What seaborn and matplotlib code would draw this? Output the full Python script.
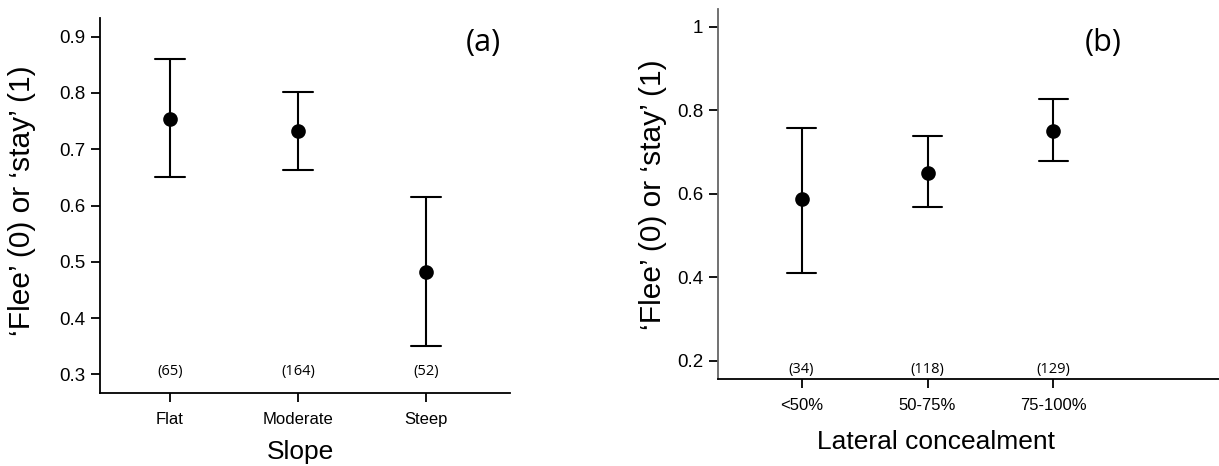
import matplotlib
matplotlib.use("Agg")
import matplotlib.pyplot as plt
import seaborn as sns
import pandas as pd

# ---- data ----
slope_cats = ["Flat", "Moderate", "Steep"]
slope_mean = [0.754, 0.733, 0.482]
slope_lo = [0.651, 0.663, 0.350]
slope_hi = [0.861, 0.802, 0.615]
slope_n = [65, 164, 52]

conc_cats = ["<50%", "50-75%", "75-100%"]
conc_mean = [0.587, 0.649, 0.750]
conc_lo = [0.410, 0.568, 0.678]
conc_hi = [0.756, 0.737, 0.827]
conc_n = [34, 118, 129]

ylabel = "\u2018Flee\u2019 (0) or \u2018stay\u2019 (1)"


def long_df(cats, lo, mean, hi):
    rows = []
    for c, l, m, h in zip(cats, lo, mean, hi):
        for v in (l, m, h):
            rows.append({"cat": c, "val": v})
    return pd.DataFrame(rows)


sns.set_theme(style="ticks")
plt.rcParams["font.family"] = ["Liberation Sans", "DejaVu Sans"]

fig = plt.figure(figsize=(12.19, 4.66), dpi=100)
ax_a = fig.add_axes([100 / 1219, 1 - 393 / 466, 410 / 1219, 375 / 466])
ax_b = fig.add_axes([718 / 1219, 1 - 379 / 466, 501 / 1219, 370 / 466])


def draw(ax, cats, lo, mean, hi, n, ylim, xlim, yticks, yticklabels, n_y,
         xlabel, xlab_pos, ylab_pos, tag, tag_pos, left_color):
    df = long_df(cats, lo, mean, hi)
    sns.pointplot(data=df, x="cat", y="val", order=cats, estimator="median",
                  errorbar=("pi", 100), color="black", linestyle="none",
                  capsize=0.234, markersize=8.5,
                  err_kws={"linewidth": 1.5}, ax=ax)
    ax.set_xlim(*xlim)
    ax.set_ylim(*ylim)
    ax.set_yticks(yticks)
    ax.set_yticklabels(yticklabels)
    for sp in ("top", "right"):
        ax.spines[sp].set_visible(False)
    ax.spines["left"].set_color(left_color)
    ax.spines["bottom"].set_color("black")
    for sp in ("left", "bottom"):
        ax.spines[sp].set_linewidth(1.3)
    ax.tick_params(axis="y", length=6.5, width=1.3, pad=4, labelsize=13.5,
                   color="black", labelcolor="black")
    ax.tick_params(axis="x", length=6.5, width=1.3, pad=7, labelsize=12,
                   color="black", labelcolor="black")
    ax.set_xlabel(xlabel, fontsize=19, color="black")
    ax.xaxis.set_label_coords(*xlab_pos)
    ax.xaxis.label.set_va("top")
    ax.set_ylabel(ylabel, fontsize=21.5, color="black")
    ax.yaxis.set_label_coords(*ylab_pos)
    for i, v in enumerate(n):
        ax.text(i, n_y, f"({v})", ha="center", va="center", fontsize=10.5,
                family="Open Sans", color="black")
    ax.text(tag_pos[0], tag_pos[1], tag, transform=ax.transAxes, ha="center",
            va="center", fontsize=22, family="Open Sans", color="black")


draw(ax_a, slope_cats, slope_lo, slope_mean, slope_hi, slope_n,
     ylim=(0.267, 0.933), xlim=(-0.547, 2.656),
     yticks=[0.3, 0.4, 0.5, 0.6, 0.7, 0.8, 0.9],
     yticklabels=["0.3", "0.4", "0.5", "0.6", "0.7", "0.8", "0.9"],
     n_y=0.305, xlabel="Slope", xlab_pos=(0.489, -0.125),
     ylab_pos=(-0.156, 0.512), tag="(a)", tag_pos=(0.934, 0.933),
     left_color="black")

draw(ax_b, conc_cats, conc_lo, conc_mean, conc_hi, conc_n,
     ylim=(0.156, 1.042), xlim=(-0.664, 3.315),
     yticks=[0.2, 0.4, 0.6, 0.8, 1.0],
     yticklabels=["0.2", "0.4", "0.6", "0.8", "1"],
     n_y=0.178, xlabel="Lateral concealment", xlab_pos=(0.435, -0.138),
     ylab_pos=(-0.102, 0.497), tag="(b)", tag_pos=(0.768, 0.908),
     left_color="#666666")

fig.savefig("out.png", dpi=100)
